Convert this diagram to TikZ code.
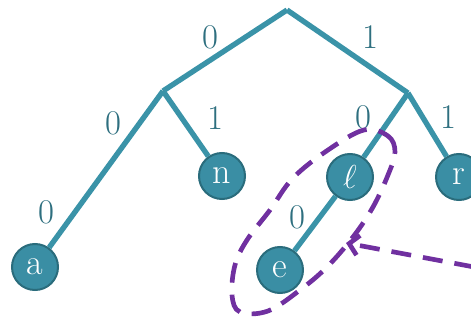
\documentclass[tikz,border=0pt]{standalone}
\usetikzlibrary{arrows.meta}
\definecolor{hTeal}{HTML}{3A93A8}
\definecolor{hNode}{HTML}{3A8EA4}
\definecolor{hRim}{HTML}{2A6C7C}
\definecolor{hLabel}{HTML}{2E6F7F}
\definecolor{hPurple}{HTML}{7030A0}
\begin{document}
\begin{tikzpicture}[x=0.75pt, y=-0.75pt, >=Stealth,
      leaf/.style={circle, draw=hRim, line width=1.5pt, fill=hNode, text=white,
        minimum size=34.5pt, inner sep=0pt, font=\fontsize{27}{27}\selectfont},
      branch/.style={draw=hTeal, line width=4pt},
      lbl/.style={text=hLabel, inner sep=0pt, font=\fontsize{26}{26}\selectfont},
      group/.style={draw=hPurple, line width=3.5pt, dash pattern=on 15pt off 9pt}]
    \useasboundingbox (0,0) rectangle (471,320);
    % inner points of the tree
    \coordinate (root) at (287,10);
    \coordinate (L) at (163,91);
    \coordinate (R) at (408,93);
    % leaves
    \node[leaf] (a) at (35,267) {a};
    \node[leaf] (n) at (222,176) {n};
    \node[leaf] (l) at (350,177) {$\ell$};
    \node[leaf] (r) at (459,177) {r};
    \node[leaf] (e) at (280,270) {e};
    % branches
    \draw[branch] (root) -- node[lbl, xshift=-11pt, yshift=10pt] {0} (L);
    \draw[branch] (root) -- node[lbl, xshift=17pt, yshift=10.5pt] {1} (R);
    \draw[branch] (L) -- node[lbl, pos=0.2, xshift=-20.4pt, yshift=-1pt] {0}
                         node[lbl, pos=0.75, xshift=-23pt, yshift=-3pt] {0} (a);
    \draw[branch] (L) -- node[lbl, xshift=22.6pt, yshift=4.2pt] {1} (n);
    \draw[branch] (R) -- node[lbl, xshift=-16.4pt, yshift=5.7pt] {0} (l);
    \draw[branch] (R) -- node[lbl, xshift=15.8pt, yshift=5.4pt] {1} (r);
    \draw[branch] (l) -- node[lbl, xshift=-12.8pt, yshift=4.9pt] {0} (e);
    % dashed group round l and e
    \draw[group] plot[smooth cycle, tension=0.6] coordinates {(364,130) (388,136) (395,152)
      (388,175) (373,207) (353,237) (327,267) (300,290) (268,311) (240,312) (232,295)
      (235,265) (247,240) (270,210) (293,178) (328,150)};
    \coordinate (tail) at (474,267);
    \coordinate (tip) at (346,243);
    \draw[group, -{Straight Barb[length=7pt, width=15pt]}] (tail) -- (tip);
\end{tikzpicture}
\end{document}
